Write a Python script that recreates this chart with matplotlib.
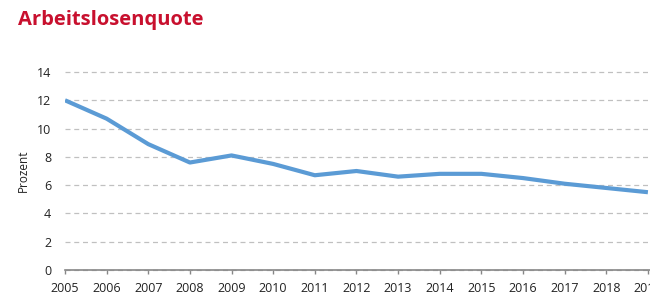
import matplotlib
matplotlib.use("Agg")
import matplotlib.pyplot as plt

years = list(range(2005, 2020))
quote = [12.0, 10.7, 8.9, 7.6, 8.1, 7.5, 6.7, 7.0, 6.6, 6.8, 6.8, 6.5, 6.1, 5.8, 5.5]
y_ticks = [0, 2, 4, 6, 8, 10, 12, 14]

plt.rcParams["font.family"] = ["Open Sans", "DejaVu Sans"]

fig = plt.figure(figsize=(6.5, 2.96), dpi=100)
ax = fig.add_axes([65 / 650, 26 / 296, 585 / 650, 198 / 296])

ax.plot(years, quote, color="#5B9BD5", lw=3, solid_capstyle="butt", zorder=3)

ax.set_xlim(2005, 2019.05)
ax.set_ylim(0, 14)
ax.set_yticks(y_ticks)
ax.set_xticks(years)
ax.yaxis.grid(True, color="#C0C0C0", linestyle=(0, (4, 3)), lw=0.9)
ax.set_axisbelow(True)
for g in ax.get_ygridlines():
    g.set_clip_on(False)

for s in ["top", "right", "left"]:
    ax.spines[s].set_visible(False)
ax.spines["bottom"].set_color("#868686")
ax.spines["bottom"].set_linewidth(1.2)
ax.tick_params(axis="y", length=0, pad=10, labelsize=9, colors="#222222")
ax.tick_params(axis="x", length=3, width=1, color="#868686", pad=6,
               labelsize=9, labelcolor="#222222")
ax.set_ylabel("Prozent", fontsize=8.5, color="#222222", labelpad=5)

fig.text(18 / 650, 1 - 20 / 296, "Arbeitslosenquote", color="#C8102E",
         fontsize=14.5, fontweight="bold", va="center", ha="left")

fig.savefig("out.png", dpi=100)
